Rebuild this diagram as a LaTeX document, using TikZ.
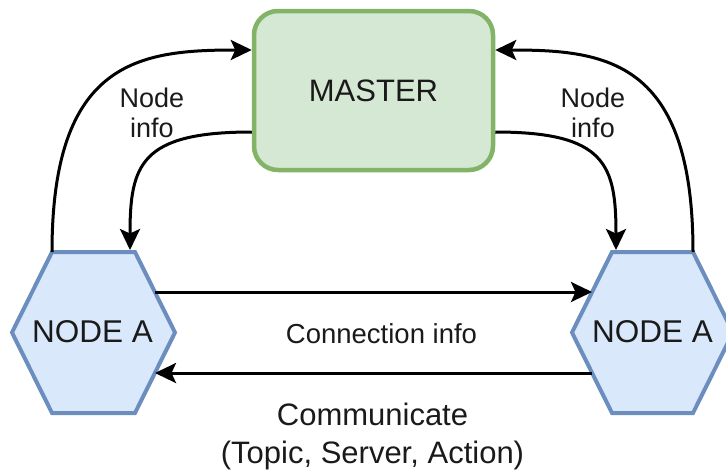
\documentclass[tikz,border=0pt]{standalone}
\usepackage{fontspec}
\setmainfont{Liberation Sans}
\usetikzlibrary{arrows.meta}
\definecolor{masterfill}{HTML}{D5E8D4}
\definecolor{masterline}{HTML}{82B366}
\definecolor{hexfill}{HTML}{DAE8FC}
\definecolor{hexline}{HTML}{6C8EBF}
\definecolor{ink}{HTML}{1A1A1A}
\begin{document}
\begin{tikzpicture}[x=1pt,y=-1pt,
  masterbox/.style={draw=masterline, fill=masterfill, line width=4.5pt,
    rounded corners=24pt, minimum width=239pt, minimum height=159pt,
    inner sep=0pt, text=ink, font=\fontsize{31}{37}\selectfont},
  hexshape/.style={draw=hexline, fill=hexfill, line width=4pt, line join=miter},
  hexlabel/.style={text=ink, font=\fontsize{31.5}{37}\selectfont, inner sep=0pt},
  conn/.style={line width=3pt, draw=black,
    -{Stealth[length=21pt,width=20pt,inset=4.5pt]}},
  lbl/.style={text=ink, inner sep=0pt, align=center, anchor=base},
]
\useasboundingbox (0,0) rectangle (726,475);
\clip (0,0) rectangle (726,475);

% master process
\node[masterbox] (master) at (373.5,90.5) {MASTER};

% the two nodes, drawn as wide hexagons
\draw[hexshape] (12,332.5) -- (52,252) -- (135,252) -- (175,332.5)
  -- (135,413) -- (52,413) -- cycle;
\draw[hexshape] (572,332.5) -- (612,252) -- (693,252) -- (733,332.5)
  -- (693,413) -- (612,413) -- cycle;
\node[hexlabel] (nodeL) at (92.5,332) {NODE A};
\node[hexlabel] (nodeR) at (652.5,332) {NODE A};

% connector end points on the hexagon borders
\coordinate (lUp)   at (52,252);
\coordinate (lIn)   at (130,250);
\coordinate (lOut)  at (155,292);
\coordinate (lBack) at (155,373);
\coordinate (rUp)   at (693,252);
\coordinate (rIn)   at (616,250);
\coordinate (rIn2)  at (592,292);
\coordinate (rOut)  at (592,373);

% registration and lookup with the master
\draw[conn] (lUp) .. controls (52,60) and (140,50) .. (master.west |- 0,50);
\draw[conn] (master.west |- 0,132) .. controls (140,132) and (130,165) .. (lIn);
\draw[conn] (rUp) .. controls (693,60) and (606,50) .. (master.east |- 0,50);
\draw[conn] (master.east |- 0,132) .. controls (606,132) and (616,165) .. (rIn);

% direct traffic between the nodes
\draw[conn] (lOut) -- (rIn2);
\draw[conn] (rOut) -- (lBack);

% labels (base anchor sits on the last line)
\node[lbl, font=\fontsize{27}{30}\selectfont] (infoL) at (152,137) {Node\\info};
\node[lbl, font=\fontsize{27}{30}\selectfont] (infoR) at (593,137) {Node\\info};
\node[lbl, font=\fontsize{27.5}{33}\selectfont] (conninfo) at (381.5,343) {Connection info};
\node[lbl, font=\fontsize{31}{38}\selectfont] (comm) at (372.5,463) {Communicate\\(Topic, Server, Action)};
\end{tikzpicture}
\end{document}
